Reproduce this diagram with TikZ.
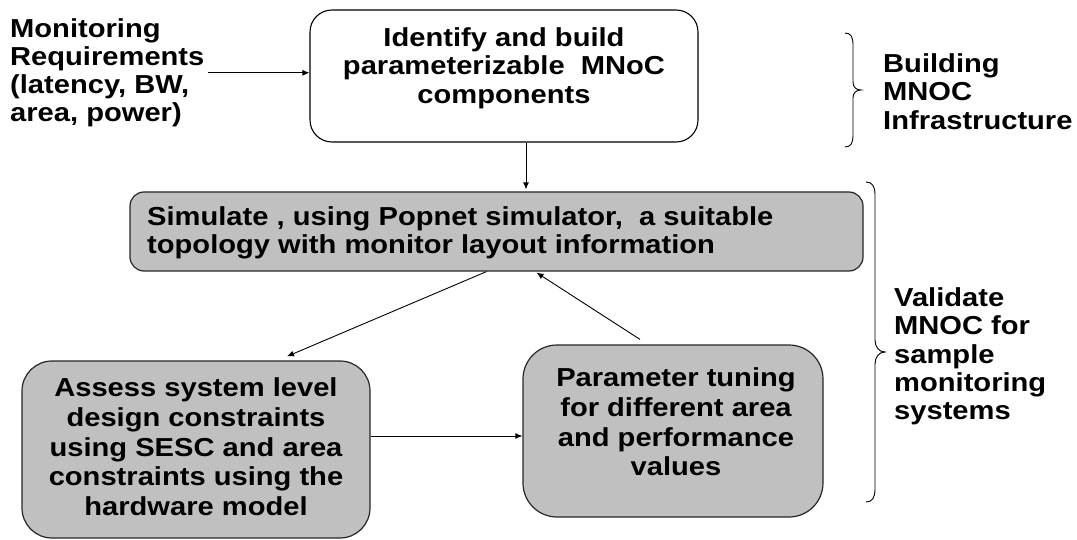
\documentclass[tikz,border=0pt]{standalone}
\usepackage{fontspec}
\setmainfont{Liberation Sans}[FakeStretch=1.12]
\usetikzlibrary{arrows.meta}
\definecolor{boxgray}{RGB}{192,192,192}
\tikzset{
  txt/.style={font=\fontsize{26}{28.3}\selectfont\bfseries, inner sep=0pt},
  txtb/.style={font=\fontsize{26}{29.8}\selectfont\bfseries, inner sep=0pt},
  whitebox/.style={draw=black, line width=1.1pt, fill=white, inner sep=0pt},
  graybox/.style={draw=black!85, line width=1.2pt, fill=boxgray, inner sep=0pt},
  arr/.style={line width=0.9pt, -{Latex[length=7pt,width=6pt]}},
  bracestyle/.style={line width=0.9pt}
}
\begin{document}
\begin{tikzpicture}[x=1pt,y=-1pt]
\useasboundingbox (0,0) rectangle (1077,540);
% boxes
\node[whitebox, rounded corners=22pt, minimum width=388pt, minimum height=132pt] (top) at (504,76) {};
\node[graybox, rounded corners=14pt, minimum width=733pt, minimum height=79pt] (mid) at (496.5,231.5) {};
\node[graybox, rounded corners=30pt, minimum width=348pt, minimum height=177pt] (assess) at (196,449.5) {};
\node[graybox, rounded corners=34pt, minimum width=300pt, minimum height=172pt] (param) at (673,431) {};
% texts
\node[txt, align=left, anchor=north west] (req) at (10,18) {Monitoring\\Requirements\\(latency, BW,\\area, power)};
\node[txt, align=center, anchor=north] (toptxt) at (504,27.5) {Identify and build\\parameterizable\ \ MNoC\\components};
\node[txt, align=left, anchor=north west] (midtxt) at (147,206.5) {Simulate , using Popnet simulator,\ \ a suitable\\topology with monitor layout information};
\node[txtb, align=center, anchor=north] (assesstxt) at (196,377.5) {Assess system level\\design constraints\\using SESC and area\\constraints using the\\hardware model};
\node[txtb, align=center, anchor=north] (paramtxt) at (676,367.5) {Parameter tuning\\for different area\\and performance\\values};
\node[txt, align=left, anchor=north west] (build) at (883,53.5) {Building\\MNOC\\Infrastructure};
\node[txt, align=left, anchor=north west] (valid) at (894,287.5) {Validate\\MNOC for\\sample\\monitoring\\systems};
% connectors
\draw[arr] ([xshift=3pt]req.east) -- (req.east -| top.west);
\draw[arr] ([xshift=22pt]top.south) -- ([xshift=22pt,yshift=2pt]top.south |- mid.north);
\draw[arr] ([xshift=-10pt]mid.south) -- ([xshift=91pt,yshift=4pt]assess.north);
\draw[arr] ([xshift=-33pt,yshift=5pt]param.north) -- ([xshift=40pt,yshift=-1pt]mid.south);
\draw[arr] ([yshift=13.5pt]assess.east) -- ([yshift=13.5pt]assess.east -| param.west);
% braces
\draw[bracestyle] (845,33) .. controls (851,33) and (853,37) .. (853,45) -- (853,82)
  .. controls (853,87) and (856,90) .. (861,90)
  .. controls (856,90) and (853,93) .. (853,98) -- (853,135)
  .. controls (853,143) and (851,147) .. (845,147);
\draw[bracestyle] (866,182) .. controls (872,182) and (875,186) .. (875,195) -- (875,340)
  .. controls (875,347) and (879,352) .. (885,352)
  .. controls (879,352) and (875,357) .. (875,364) -- (875,489)
  .. controls (875,498) and (872,502) .. (866,502);
\end{tikzpicture}
\end{document}
